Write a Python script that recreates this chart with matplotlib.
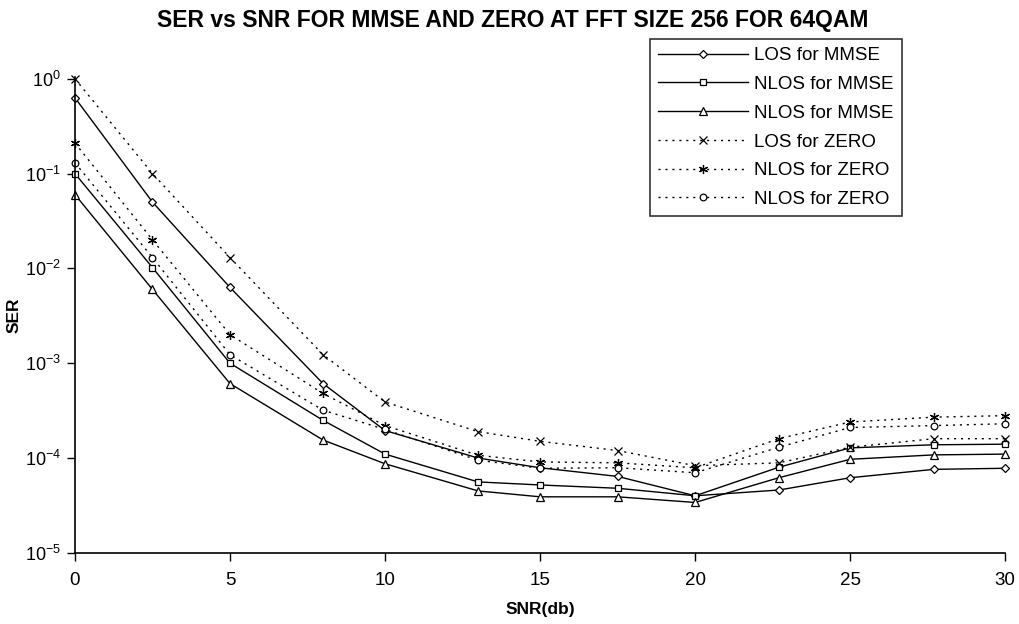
import numpy as np
import matplotlib.pyplot as plt

plt.rcParams.update({
    'font.family': 'sans-serif',
    'font.sans-serif': ['Liberation Sans', 'Arial', 'DejaVu Sans'],
    'font.size': 11,
    'axes.linewidth': 1.2,
})

# SNR points (dB)
snr = [0, 2.5, 5, 8, 10, 13, 15, 17.5, 20, 22.7, 25, 27.7, 30]

# SER values
los_mmse = [0.63, 0.05, 0.0063, 6.1e-4, 1.95e-4, 1.0e-4, 7.9e-5, 6.4e-5, 4.0e-5, 4.6e-5, 6.2e-5, 7.6e-5, 7.8e-5]
nlos_mmse_a = [0.10, 0.0102, 0.001, 2.5e-4, 1.1e-4, 5.6e-5, 5.2e-5, 4.8e-5, 4.0e-5, 8.0e-5, 1.28e-4, 1.38e-4, 1.4e-4]
nlos_mmse_b = [0.06, 0.006, 6.1e-4, 1.55e-4, 8.7e-5, 4.5e-5, 3.9e-5, 3.9e-5, 3.4e-5, 6.2e-5, 9.7e-5, 1.08e-4, 1.1e-4]
los_zero = [1.0, 0.10, 0.013, 0.00123, 3.9e-4, 1.9e-4, 1.5e-4, 1.2e-4, 8.3e-5, 8.9e-5, 1.3e-4, 1.6e-4, 1.6e-4]
nlos_zero_a = [0.21, 0.020, 0.0020, 4.8e-4, 2.2e-4, 1.07e-4, 9.1e-5, 8.9e-5, 7.9e-5, 1.6e-4, 2.4e-4, 2.7e-4, 2.8e-4]
nlos_zero_b = [0.13, 0.013, 0.00123, 3.2e-4, 2.0e-4, 9.5e-5, 7.8e-5, 7.9e-5, 7.0e-5, 1.3e-4, 2.1e-4, 2.2e-4, 2.3e-4]

dots = (0, (1.5, 3.5))
series = [
    (los_mmse, 'LOS for MMSE', 'D', '-', 4.0),
    (nlos_mmse_a, 'NLOS for MMSE', 's', '-', 5.0),
    (nlos_mmse_b, 'NLOS for MMSE', '^', '-', 5.5),
    (los_zero, 'LOS for ZERO', 'x', dots, 5.5),
    (nlos_zero_a, 'NLOS for ZERO', (6, 2, 0), dots, 6.5),
    (nlos_zero_b, 'NLOS for ZERO', 'o', dots, 4.8),
]

fig = plt.figure(figsize=(10.2, 6.24), dpi=100)
ax = fig.add_axes([0.0735, 0.114, 0.912, 0.763])

for vals, label, mk, ls, ms in series:
    ax.plot(snr, vals, color='black', linestyle=ls, linewidth=1.0,
            marker=mk, markersize=ms, markerfacecolor='white',
            markeredgecolor='black', markeredgewidth=0.9,
            label=label, clip_on=False)

ax.set_yscale('log')
ax.set_ylim(1e-5, 1.05)
ax.set_xlim(0, 30)
ax.set_xticks([0, 5, 10, 15, 20, 25, 30])
ax.set_yticks([1e0, 1e-1, 1e-2, 1e-3, 1e-4, 1e-5])
ax.yaxis.set_minor_locator(plt.NullLocator())
ax.tick_params(axis='both', direction='out', length=6, width=1, color='black')
ax.tick_params(axis='x', labelsize=13.5, pad=8)
ax.tick_params(axis='y', labelsize=13, pad=4)

for side in ['top', 'right']:
    ax.spines[side].set_visible(False)

ax.set_xlabel('SNR(db)', fontsize=12.5, fontweight='bold', labelpad=9)
ax.set_ylabel('SER', fontsize=12.5, fontweight='bold')
ax.yaxis.set_label_coords(-0.057, 0.5)
fig.suptitle('SER vs SNR FOR MMSE AND ZERO AT FFT SIZE 256 FOR 64QAM',
             fontsize=16.5, fontweight='bold', x=0.503, y=0.985)

leg = fig.legend(loc='upper left', bbox_to_anchor=(0.637, 0.938),
                 fontsize=13.5, frameon=True, fancybox=False,
                 edgecolor='black', handlelength=4.8, handletextpad=0.3,
                 labelspacing=0.62, borderpad=0.45, borderaxespad=0)
leg.get_frame().set_linewidth(1.2)

fig.savefig('out.png', dpi=100)
